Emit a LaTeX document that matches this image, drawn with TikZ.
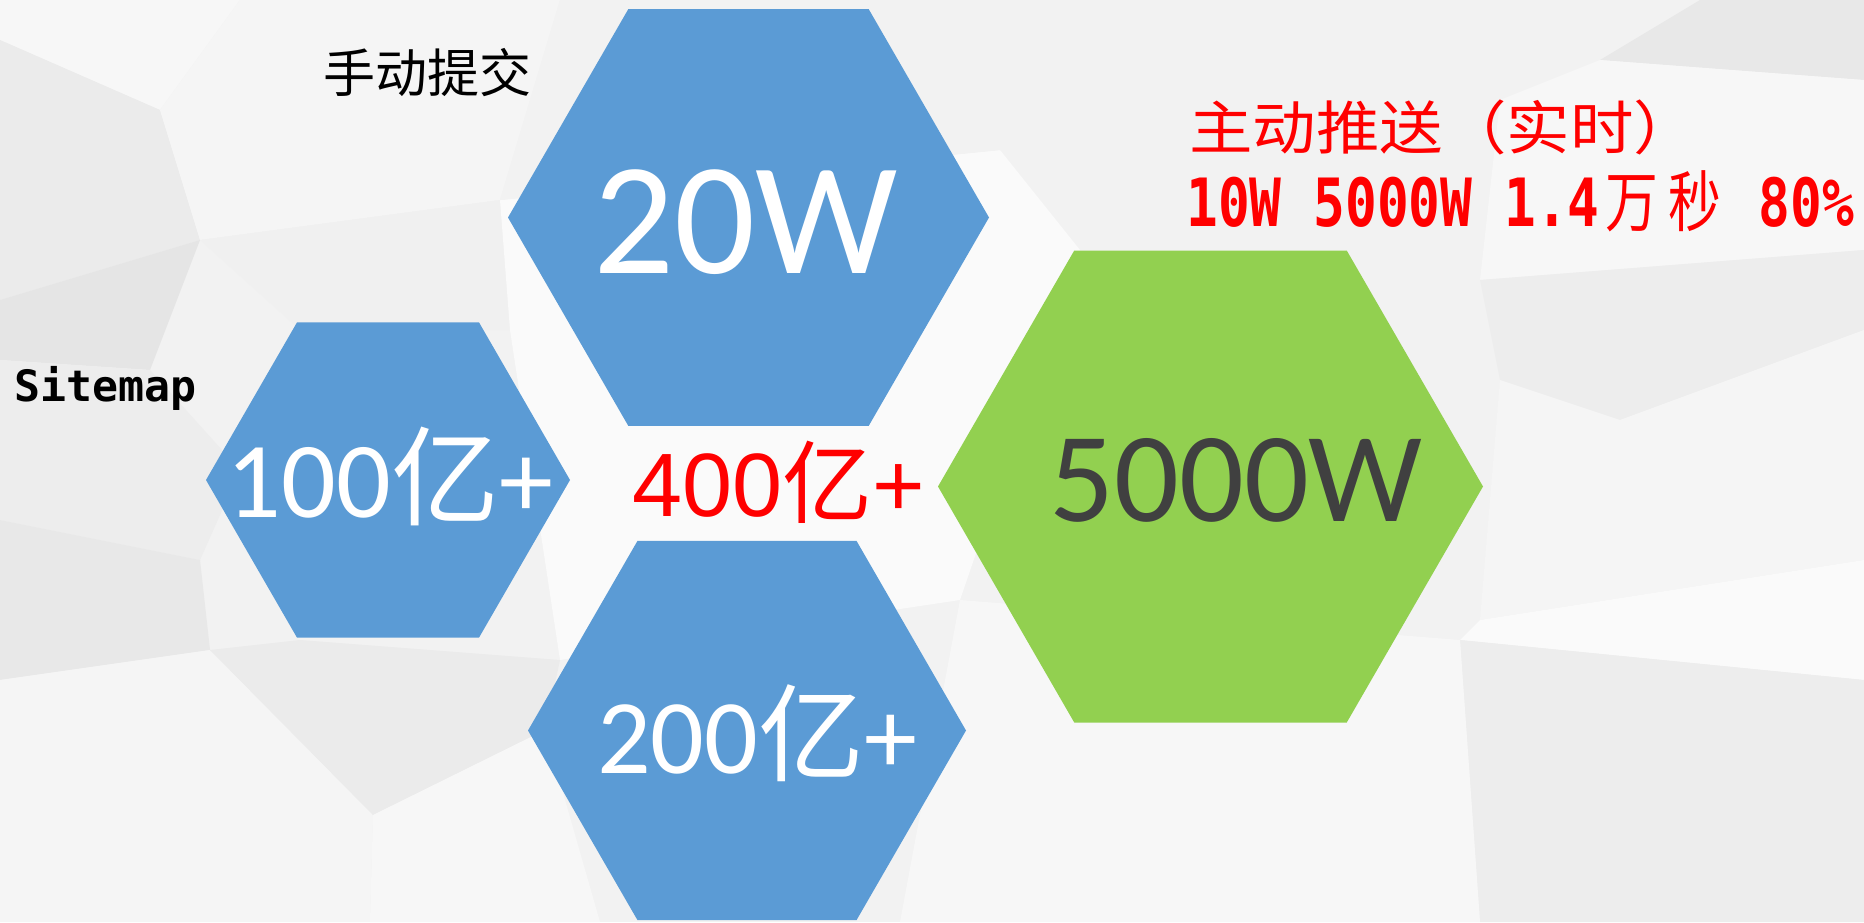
\documentclass[tikz,border=0pt]{standalone}
\usepackage{fontspec}
\usepackage{graphicx}
\setmainfont{Carlito}
\newfontfamily\cjk{Noto Sans CJK SC}
\newfontfamily\arialf{Liberation Sans}
\newfontfamily\monof{DejaVu Sans Mono}
\usetikzlibrary{shapes.geometric}
\definecolor{hexblue}{HTML}{5B9BD5}
\definecolor{hexgreen}{HTML}{92D050}
\definecolor{darktxt}{HTML}{404040}
\definecolor{txtred}{HTML}{FF0000}
\tikzset{
  hexa/.style={regular polygon, regular polygon sides=6, inner sep=0pt, outer sep=0pt, draw=none},
  bgp/.style={fill=black!#1, draw=none},
}
\begin{document}
\begin{tikzpicture}[x=0.5pt,y=-0.5pt]
\useasboundingbox (0,0) rectangle (1864,922);
% background texture
\fill[black!5] (0,0) rectangle (1864,922);
\fill[bgp=3]  (0,0) -- (240,0) -- (160,110) -- (0,40) -- cycle;
\fill[bgp=8]  (0,40) -- (160,110) -- (200,240) -- (0,300) -- cycle;
\fill[bgp=10] (0,300) -- (200,240) -- (150,370) -- (0,360) -- cycle;
\fill[bgp=4]  (160,110) -- (240,0) -- (560,0) -- (500,200) -- (200,240) -- cycle;
\fill[bgp=6]  (200,240) -- (500,200) -- (510,330) -- (300,330) -- cycle;
\fill[bgp=7]  (0,360) -- (150,370) -- (240,470) -- (200,560) -- (0,520) -- cycle;
\fill[bgp=9]  (0,520) -- (200,560) -- (210,650) -- (0,680) -- cycle;
\fill[bgp=4]  (0,680) -- (210,650) -- (373,815) -- (370,922) -- (0,922) -- cycle;
\fill[bgp=8]  (210,650) -- (300,640) -- (560,660) -- (545,730) -- (373,815) -- cycle;
\fill[bgp=3]  (373,815) -- (545,730) -- (600,922) -- (370,922) -- cycle;
\fill[bgp=2]  (500,200) -- (1000,150) -- (1080,250) -- (960,600) -- (560,660) -- (510,330) -- cycle;
\fill[bgp=5]  (560,0) -- (1700,0) -- (1500,100) -- (1000,150) -- (500,200) -- cycle;
\fill[bgp=9]  (1700,0) -- (1864,0) -- (1864,80) -- (1600,60) -- cycle;
\fill[bgp=3]  (1500,100) -- (1600,60) -- (1864,80) -- (1864,250) -- (1480,280) -- cycle;
\fill[bgp=7]  (1480,280) -- (1864,250) -- (1864,330) -- (1620,420) -- (1500,380) -- cycle;
\fill[bgp=4]  (1500,380) -- (1620,420) -- (1864,330) -- (1864,560) -- (1480,620) -- cycle;
\fill[bgp=2]  (1480,620) -- (1864,560) -- (1864,680) -- (1460,640) -- cycle;
\fill[bgp=7]  (1460,640) -- (1864,680) -- (1864,922) -- (1480,922) -- cycle;
\fill[bgp=3]  (960,600) -- (1460,640) -- (1480,922) -- (900,922) -- cycle;
% hexagons
\node[hexa, fill=hexblue,  minimum size=240.5pt] (hextop)   at (748.5,217.5) {};
\node[hexa, fill=hexblue,  minimum size=182pt]   (hexleft)  at (388,480) {};
\node[hexa, fill=hexblue,  minimum size=219pt]   (hexbot)   at (747,730.5) {};
\node[hexa, fill=hexgreen, minimum size=272.5pt] (hexgreen) at (1210.5,486.5) {};
% texts in hexagons
\node[anchor=base, inner sep=0, text=white, font=\fontsize{80pt}{80pt}\selectfont] (t20w) at (746,273) {20W};
\node[anchor=base, inner sep=0, text=darktxt, font=\fontsize{64pt}{64pt}\selectfont] (t5000w) at (1236,521) {5000W};
\node[anchor=base, inner sep=0, text=white, font=\fontsize{54pt}{54pt}\selectfont] (t100) at (390,517) {100{\cjk 亿}+};
\node[anchor=base, inner sep=0, text=white, font=\fontsize{53pt}{53pt}\selectfont] (t200) at (757,773) {200{\cjk 亿}+};
\node[anchor=base, inner sep=0, text=txtred, font=\arialf\fontsize{45pt}{45pt}\selectfont] (t400) at (779,516) {400{\cjk 亿}+};
% free labels
\node[inner sep=0, font=\cjk\fontsize{26pt}{26pt}\selectfont] (manual) at (427,73) {手动提交};
\node[anchor=base west, inner sep=0, font=\monof\bfseries\fontsize{21.6pt}{21.6pt}\selectfont] (sitemap) at (14,401) {Sitemap};
\node[anchor=base west, inner sep=0, text=txtred, font=\cjk\fontsize{29pt}{29pt}\selectfont] (push) at (1189,149) {\scalebox{1.095}[1]{主动推送（实时）}};
\node[anchor=base west, inner sep=0, text=txtred, font=\monof\bfseries\fontsize{26.4pt}{26.4pt}\selectfont] (stats) at (1186,226)
  {\scalebox{1}[1.26]{10W 5000W 1.4\makebox[31.8pt]{\cjk\mdseries 万}\makebox[31.8pt]{\cjk\mdseries 秒} 80\%}};
\end{tikzpicture}
\end{document}
